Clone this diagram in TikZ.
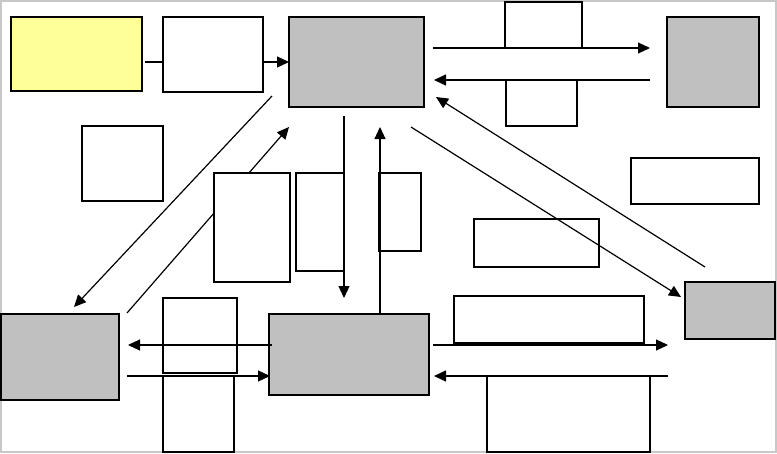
\documentclass[tikz,border=0pt]{standalone}
\usetikzlibrary{arrows.meta}
\pgfdeclarelayer{background}
\pgfsetlayers{background,main}
\definecolor{boxgray}{RGB}{192,192,192}
\definecolor{paleyellow}{RGB}{255,255,153}
\definecolor{framegray}{RGB}{200,200,200}
\begin{document}
\begin{tikzpicture}[x=1pt,y=-1pt,
  blk/.style={draw, line width=1.2pt, inner sep=0pt, outer sep=0pt, anchor=north west},
  graybox/.style={blk, fill=boxgray, line width=1.8pt},
  yelbox/.style={blk, fill=paleyellow, line width=1.6pt},
  whitebox/.style={blk, fill=white},
  conn/.style={line width=1.2pt},
  arr/.style={conn, -{Triangle[length=12pt,width=11pt]}}]
\useasboundingbox (0,0) rectangle (777,453);
\draw[framegray, line width=1.6pt] (1,1) rectangle (776,452);
% boxes
\node[yelbox, minimum width=131pt, minimum height=74pt] (yel) at (11,17) {};
\node[blk, minimum width=100pt, minimum height=75pt] (w1) at (163,17) {};
\node[graybox, minimum width=135pt, minimum height=90pt] (cg) at (289,17) {};
\node[blk, minimum width=77pt, minimum height=46pt] (t1) at (505,2) {};
\node[blk, minimum width=71pt, minimum height=46pt] (t2) at (506,80) {};
\node[graybox, minimum width=92pt, minimum height=90pt] (rg) at (667,17) {};
\node[blk, minimum width=128pt, minimum height=46pt] (rw) at (631,158) {};
\node[blk, line width=1.8pt, minimum width=125pt, minimum height=48pt] (mw) at (474,219) {};
\node[graybox, minimum width=90pt, minimum height=57pt] (rg2) at (685,282) {};
\node[blk, minimum width=81pt, minimum height=75pt] (lw) at (82,126) {};
\node[whitebox, minimum width=76pt, minimum height=109pt] (v1) at (214,173) {};
\node[blk, minimum width=48pt, minimum height=98pt] (v2) at (296,173) {};
\node[blk, minimum width=42pt, minimum height=78pt] (v3) at (379,173) {};
\node[graybox, minimum width=118pt, minimum height=86pt] (lg) at (1,314) {};
\node[blk, minimum width=74pt, minimum height=75pt] (b1) at (163,298) {};
\node[blk, line width=1.5pt, minimum width=71pt, minimum height=76pt] (b2) at (163,376) {};
\node[graybox, minimum width=160pt, minimum height=81pt] (bg) at (269,314) {};
\node[blk, line width=1.5pt, minimum width=190pt, minimum height=47pt] (b3) at (454,296) {};
\node[blk, minimum width=163pt, minimum height=76pt] (b4) at (487,376) {};
% connector hidden behind v1
\begin{pgfonlayer}{background}
\draw[arr] ([shift={(8,-1)}]lg.north east) -- ([shift={(0,20)}]cg.south west);
\end{pgfonlayer}
% connectors
\draw[conn] ([xshift=3pt]yel.east |- cg.west) -- (w1.east |- cg.west -| w1.west);
\draw[arr] (w1.east |- cg.west) -- (cg.west);
\draw[arr] ([shift={(9,-14)}]cg.east) -- ([shift={(-17,-14)}]rg.west);
\draw[arr] ([shift={(-17,18)}]rg.west) -- ([shift={(10,18)}]cg.east);
\draw[arr] ([shift={(-17,-11)}]cg.south west) -- ([shift={(14,-7)}]lg.north);
\draw[arr] ([shift={(-12.5,9)}]cg.south) -- ([shift={(-5,-16)}]bg.north);
\draw[arr] ([shift={(31,0)}]bg.north) -- ([shift={(23.5,20)}]cg.south);
\draw[arr] ([shift={(20,-15)}]rg2.north west) -- ([shift={(12,-10)}]cg.south east);
\draw[arr] ([shift={(-13,20)}]cg.south east) -- ([shift={(-4,15)}]rg2.north west);
\draw[arr] ([shift={(3,-9.5)}]bg.west) -- ([shift={(9,-12)}]lg.east);
\draw[arr] ([shift={(8,19)}]lg.east) -- ([shift={(1,21.5)}]bg.west);
\draw[arr] ([shift={(4,-9.5)}]bg.east) -- ([shift={(-17,6)}]rg2.south west);
\draw[arr] ([shift={(-17,37)}]rg2.south west) -- ([shift={(5,21.5)}]bg.east);
\end{tikzpicture}
\end{document}
